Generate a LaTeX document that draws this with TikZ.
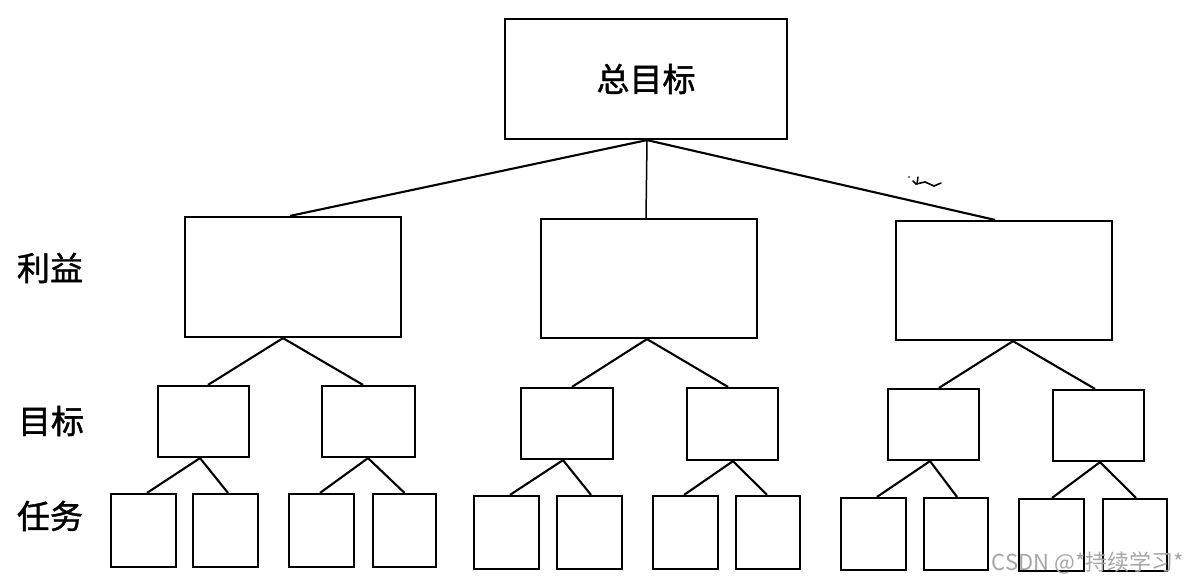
\documentclass[tikz,border=0pt]{standalone}
\usepackage{fontspec}
\newfontfamily\cjk[FakeBold=1.3]{Noto Sans CJK SC}
\newfontfamily\cjkwm{Noto Sans CJK SC}
\begin{document}
\begin{tikzpicture}[x=1pt,y=-1pt,
  box/.style={draw, line width=2.2pt, inner sep=0pt},
  conn/.style={line width=2.1pt},
  lab/.style={font=\cjk\fontsize{33}{36}\selectfont, inner sep=0pt},
  wm/.style={font=\cjkwm\fontsize{22}{24}\selectfont, text=black!35, inner sep=0pt}]
\useasboundingbox (0,0) rectangle (1190,584);
% root
\node[box, minimum width=282pt, minimum height=120pt, lab] (root) at (646,79) {总目标};
% level 1
\node[box, minimum width=216pt, minimum height=120pt] (p1) at (293,277) {};
\node[box, minimum width=216pt, minimum height=119pt] (p2) at (649,278.5) {};
\node[box, minimum width=216pt, minimum height=119pt] (p3) at (1004,280.5) {};
% level 2
\node[box, minimum width=91pt, minimum height=71pt] (g1) at (203.5,421.5) {};
\node[box, minimum width=93pt, minimum height=71pt] (g2) at (368.5,421.5) {};
\node[box, minimum width=92pt, minimum height=71pt] (g3) at (567,423.5) {};
\node[box, minimum width=91pt, minimum height=72pt] (g4) at (732.5,424) {};
\node[box, minimum width=91pt, minimum height=71pt] (g5) at (933.5,424.5) {};
\node[box, minimum width=91pt, minimum height=71pt] (g6) at (1098.5,425.5) {};
% level 3
\node[box, minimum width=65pt, minimum height=73pt] (t1) at (143.5,530.5) {};
\node[box, minimum width=65pt, minimum height=73pt] (t2) at (225.5,530.5) {};
\node[box, minimum width=65pt, minimum height=73pt] (t3) at (321.5,530.5) {};
\node[box, minimum width=63pt, minimum height=73pt] (t4) at (404.5,530.5) {};
\node[box, minimum width=65pt, minimum height=73pt] (t5) at (506.5,532.5) {};
\node[box, minimum width=65pt, minimum height=73pt] (t6) at (589.5,532.5) {};
\node[box, minimum width=65pt, minimum height=73pt] (t7) at (685.5,532.5) {};
\node[box, minimum width=64pt, minimum height=73pt] (t8) at (768,532.5) {};
\node[box, minimum width=65pt, minimum height=72pt] (t9) at (873.5,534) {};
\node[box, minimum width=64pt, minimum height=72pt] (t10) at (956,534) {};
\node[box, minimum width=65pt, minimum height=72pt] (t11) at (1051.5,535) {};
\node[box, minimum width=64pt, minimum height=72pt] (t12) at (1135,535) {};
% row labels
\node[lab] (l1) at (50,268) {利益};
\node[lab] (l2) at (51,421) {目标};
\node[lab] (l3) at (50,516) {任务};
% connectors root -> level 1
\draw[conn] ([xshift=1pt]root.south) -- ([xshift=-3pt]p1.north);
\draw[conn, line width=1.5pt] ([xshift=1pt]root.south) -- ([xshift=-3pt]p2.north);
\draw[conn] ([xshift=1pt]root.south) -- ([xshift=-9pt]p3.north);
% level 1 -> level 2
\draw[conn] ([xshift=-10pt]p1.south) -- ([xshift=4.5pt]g1.north);
\draw[conn] ([xshift=-10pt]p1.south) -- ([xshift=-5.5pt]g2.north);
\draw[conn] ([xshift=-2pt]p2.south) -- ([xshift=5pt]g3.north);
\draw[conn] ([xshift=-2pt]p2.south) -- ([xshift=-4.5pt]g4.north);
\draw[conn] ([xshift=9pt]p3.south) -- ([xshift=5.5pt]g5.north);
\draw[conn] ([xshift=9pt]p3.south) -- ([xshift=-3.5pt]g6.north);
% level 2 -> level 3
\draw[conn] ([xshift=-3.5pt]g1.south) -- ([xshift=3.5pt]t1.north);
\draw[conn] ([xshift=-3.5pt]g1.south) -- ([xshift=2.5pt]t2.north);
\draw[conn] ([xshift=-0.5pt]g2.south) -- ([xshift=-1.5pt]t3.north);
\draw[conn] ([xshift=-0.5pt]g2.south) -- (t4.north);
\draw[conn] ([xshift=-4pt]g3.south) -- ([xshift=3.5pt]t5.north);
\draw[conn] ([xshift=-4pt]g3.south) -- ([xshift=1.5pt]t6.north);
\draw[conn] ([xshift=0.5pt]g4.south) -- ([xshift=-1.5pt]t7.north);
\draw[conn] ([xshift=0.5pt]g4.south) -- ([xshift=-1pt]t8.north);
\draw[conn] ([xshift=-3.5pt]g5.south) -- ([xshift=3.5pt]t9.north);
\draw[conn] ([xshift=-3.5pt]g5.south) -- ([xshift=1pt]t10.north);
\draw[conn] ([xshift=1.5pt]g6.south) -- ([xshift=0.5pt]t11.north);
\draw[conn] ([xshift=1.5pt]g6.south) -- ([xshift=1pt]t12.north);
% scan mark
\fill (909,177) circle (0.8pt);
\draw[line width=1.6pt, line cap=round] (913,181) -- (916,184) -- (925,182) -- (934,186) -- (941,183);
\draw[line width=1.5pt, line cap=round] (918,177) -- (917,184);
% watermark
\node[wm, anchor=east] (wmk) at (1184,563) {CSDN @*持续学习*};
\end{tikzpicture}
\end{document}
